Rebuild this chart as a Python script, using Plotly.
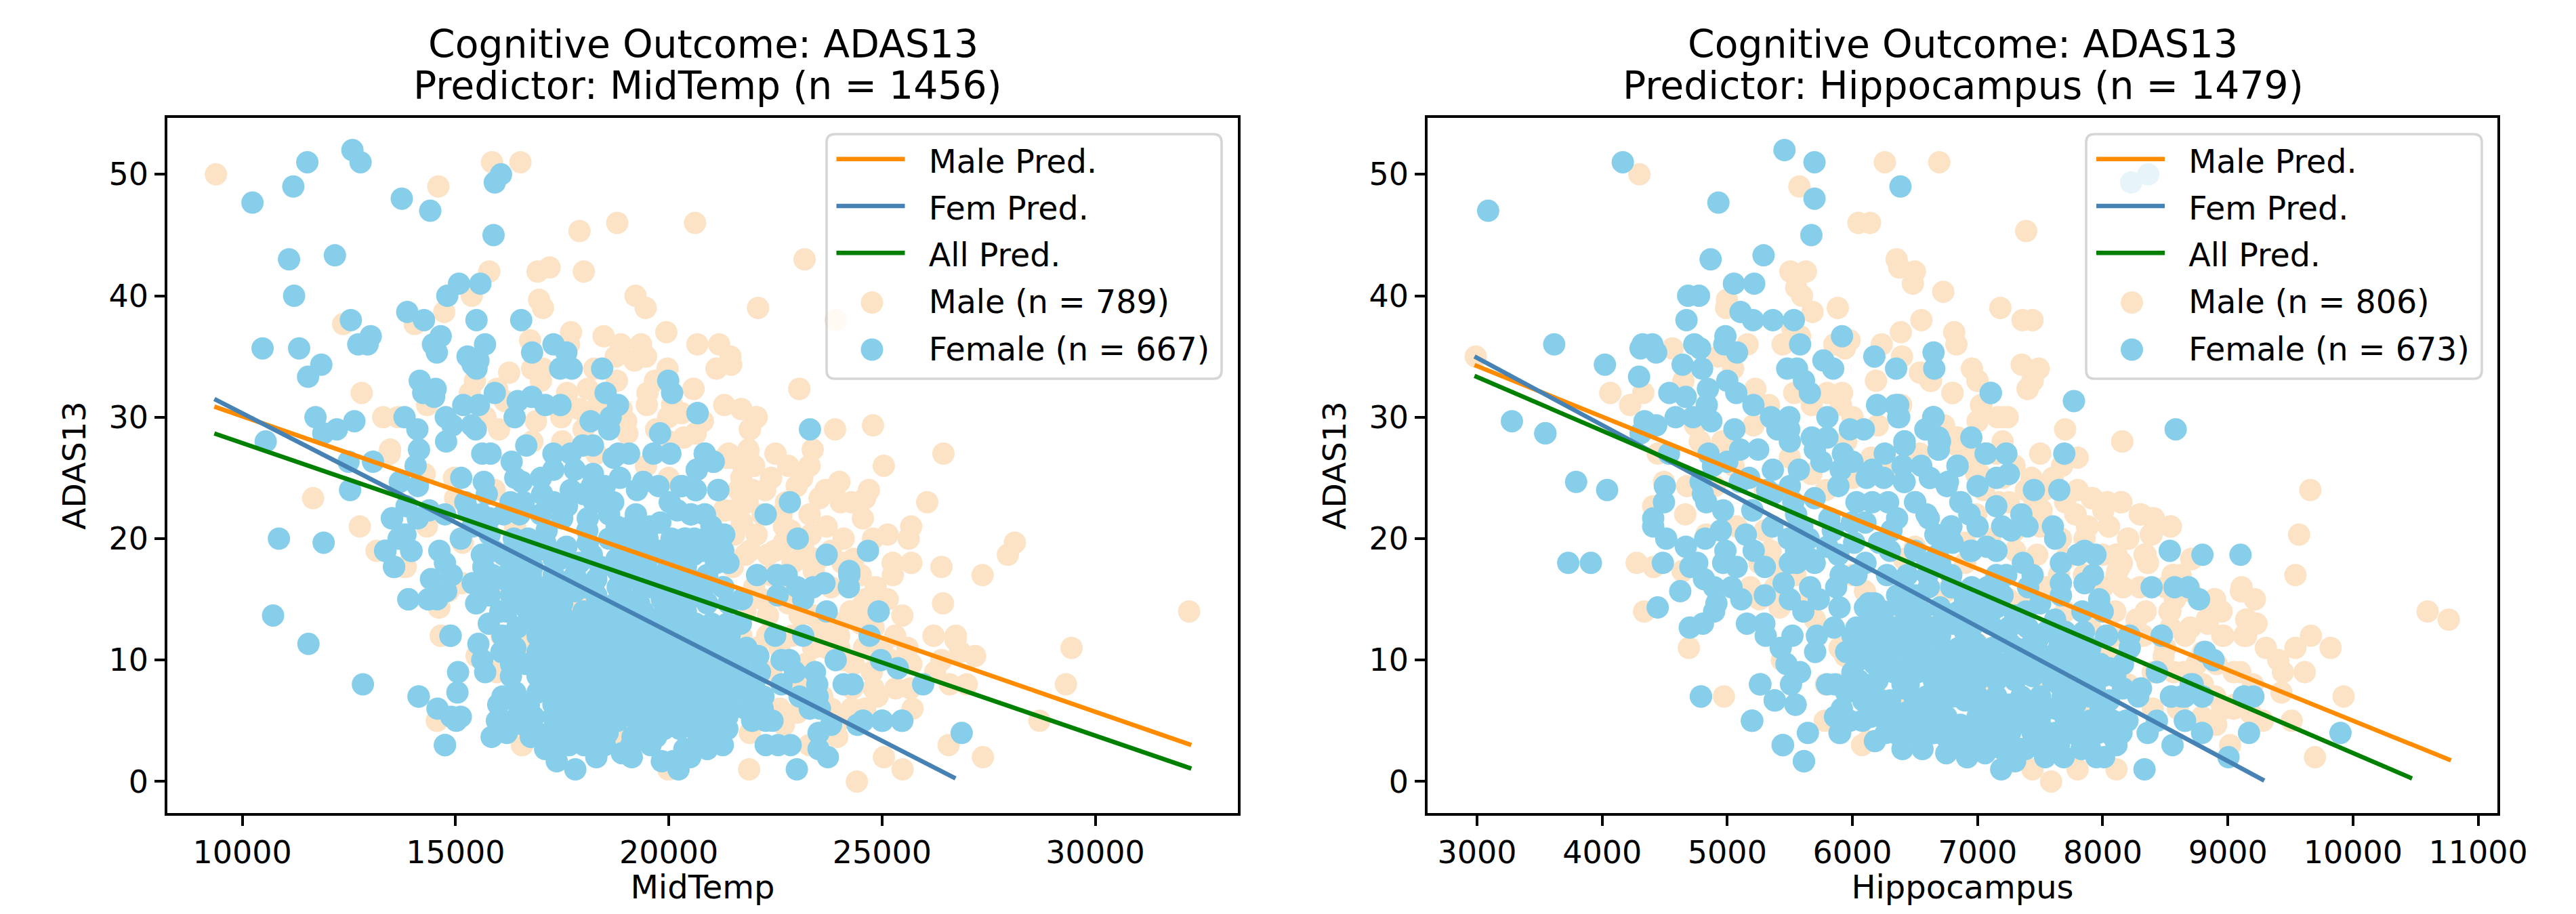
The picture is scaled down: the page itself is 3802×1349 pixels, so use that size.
import plotly.graph_objects as go

W, H = 3802, 1349

# ---------- data ----------
male_mid = [(9380,50),(15855,51),(16520,51),(14596,49),(17906,45.33),(18791,46),(20615,46),(15790,42),(16922,42),(17204,42.33),(18007,42),(15380,40),(16958,39.67),(17049,39),(19220,40),(19457,39),(22092,39),(14733,38.67),(14040,37.67),(12362,37.67),(17706,37),(16748,36.33),(17660,36),(18472,36.67),(18873,36),(19348,36),(19941,37),(20670,36),(21181,36),(21445,35),(18755,35),(19193,34.67),(19466,35),(19968,34),(21117,34),(21463,34.33),(16256,33.67),(16794,34),(17049,34),(18253,34),(18782,33),(19676,33),(20579,32.33),(15453,33),(15335,32),(17615,32),(18098,32.33),(12799,32),(14332,31),(15973,32.33),(16156,31.33),(13301,30),(13648,30),(19484,31),(20077,31),(18344,31),(18892,30.67),(19986,30),(22056,30),(21901,29),(20624,28.67),(19028,28.67),(20351,28.33),(16885,29.67),(16019,29),(15700,30),(17478,30),(13465,27.33),(21400,27),(21865,27.33),
(20577,32.33),(23061,32.33),(22060,30),(21901,29),(23898,29),(24788,29.33),(23374,27.33),(26440,27),(25042,26),(21859,27),(21424,26.67),(21742,26),(20630,28.67),(23130,25),(23676,24),(23533,23.33),(24030,23),(24284,23),(24603,23.33),(24693,24),(26059,23),(24550,21.67),(25683,21),(25625,20),(25132,20.33),(24788,20),(23331,20.33),(21636,24),(21954,24),(22261,24),(22749,23),(21848,23),(21292,22.33),(21716,21.33),(22643,22),(28114,19.67),(27950,18.67),(27357,17),(26393,17.67),(25688,18),(25249,18),(25254,17),(24338,18.33),(24073,18),(24327,17),(26430,14.67),(24851,16),(25132,15),(25477,13.67),(24258,14),(24602,15),(26207,12),(26732,12),(26722,11.67),(27182,10.33),(25307,12),(23993,12),(23570,12.33),(24576,11),(26828,10.67),(26393,10),(25688,9.67),(26245,9),(24761,9),(26986,8),(26589,8),(25318,7.67),(24894,7),(25715,6),(24284,6),(25662,7.67),(23808,6),(24603,6),(23013,5.67),(22325,18.67),(21795,18.67),(22696,19.67),(22060,20.33),(21530,20.33),(23066,18.33),(22325,13.67),(23066,13.67),(21795,14),(23702,11),(23384,11),(24338,9.67),(22060,11),(22590,11),(22484,19),(22855,20.67),(23172,19),(21530,22.33),
(23184,43),(23914,38),(23060,32.33),(32201,14),(29444,11),(29313,8),(28692,5),(27365,2),(26562,3),(25482,1),(24410,0),(26212,12),(26722,11.9),(25044,2),(23950,3.67),(23293,3),
(13453,27),(14274,25.33),(14963,25),(15916,24),(14990,23.33),(14327,21),(15164,19.67),(13347,19),(13798,17.67),(15122,16.33),(15811,16),(14831,15.67),(14619,14.33),(14661,12),(15493,10.33),(15970,9),(14566,5),(16552,3),(19995,1),(18909,3.33),(17241,16),(16393,21),(17718,14.67),(18194,14.67),(16075,12),(16525,11.33),(19465,26),(19995,25),(18300,27),(21320,22.33),(21320,26.67),
(11659,23.33),(12754,21),(13447,27),(14560,5),(16566,3),(19986,1),(21883,1),(14651,12),(14605,14.33),(13146,19),(13830,17.67),(15152,16.33),(15791,16),(15499,10.33),(17250,16.33),(18071,14.67),(19165,4.67),(18892,3.33),
(22000,26),(22400,25),(22800,26),(22200,22),(22700,21),(23300,22),(23700,21),(24100,20),(23800,19),(22400,17),(22900,16),(23400,17.33),(23800,16),(24500,17),(22200,15),(22800,14.67),(23400,13.67),(24000,13),(24500,13),(21700,12),(22300,12),(22900,12),(24800,12.67),(21400,10),(23200,9.67),(24100,10),(24800,10.67),(25200,10),(21800,8),(22400,9),(23000,8),(23600,7),(24300,7.67),(24800,7.67),(21900,4),(22700,4.67),(24000,5),(20000,28),(19000,29.67),(18000,29),(17500,28),(16800,28),(20800,29.67),(19700,29),(21300,31),
(21900,19),(21500,17.67),(22000,16),(22900,18),(23500,18.33),(21700,25),(22500,27),(23000,24.33),(24000,24.67),(23300,26),(19500,32),(17000,33),(17900,30.67),(20300,30.33),(21700,30.67),(24000,11),(25000,11),(25600,11),(22600,6),(24500,14.33)]

female_mid = [(10237,47.67),(11195,49),(11523,51),(12581,52),(12772,51),(13739,48),(14405,47),(15890,45),(16065,50),(15919,49.33),(11094,43),(12170,43.33),(11213,40),(15080,41),(15581,41),(14806,40),(13867,38.67),(14259,38),(15490,38),(16539,38),(12544,38),(13010,36.67),(12937,36),(12718,36),(10474,35.67),(11331,35.67),(11851,34.33),(11541,33.33),(14651,36.67),(14469,36),(14560,35.33),(15690,36),(15280,35),(15536,34.67),(15400,34.33),(15490,34),(16794,35.33),(17296,36),(17597,35.33),(17451,34),(17724,34),(18436,34),(19986,33),(20077,32),(14159,33),(14533,32.33),(14241,32),(14496,31.67),(15919,32),(15180,31),(15545,31),(16785,31.67),(16457,31.33),(17105,31),(17460,31),(18518,32),(18809,31),(16385,30),(18637,30),(20670,30.33),(11715,30),(13803,30),(12627,29.67),(12216,29),(11897,28.67),(10547,28),(18166,29.67),(14770,30),(14925,29.33),(15381,29.33),(15472,29),(14104,29),(18600,29),(19795,28.67),
(10857,20),(11906,19.67),(10720,13.67),(11550,11.33),(12827,8),(14131,7),(15043,7.33),(14879,12),(14751,3),(15845,3.67),(12526,24),(13064,26.33),(12490,26.33),(13511,21.67),(13739,20.33),(13967,19),(13356,19),(13556,17.67),(13894,15),(14359,15),
(14137,7),(14576,6),(15058,9),(14884,12),(15482,14.67),(13893,15),(14365,15),(14751,3),(15969,5),(16340,5),(15122,5.33),(14900,5.33),(15016,5),(17373,1.67),(17807,1),(19132,2),(19121,3),(20228,1),(19836,1.67),(20100,1.67),(21266,3),(19571,3),(17665,3),(18009,3),(18274,3.33),(16764,3.67),(16923,4),(18565,4),(20366,2.67),(16075,10.67),(15535,11.33),(15625,10),(15694,9),(16298,8.67),(15779,13),(16049,14),(16605,14.67),(17294,14.67),(17506,16),(16764,17),(16393,16.33),(16128,16.67),(15864,17),(15652,17.67),(15615,18.67),(16128,18.67),(16605,18.33),(17453,18.33),(16446,12.67),(17347,13),
(16923,13),(17665,13),(18035,13),(18406,13),(18777,13),(19148,13),(19518,13),(19889,13),(20260,13),(21002,13),(21372,13),
(16923,12),(17294,12),(17665,12),(18035,12),(18406,12),(18777,12),(19148,12),(19518,12),(19889,12),(20260,12),(20631,12),(21002,12),(21372,12),
(16923,10.67),(17294,10.67),(17665,10.67),(18035,10.67),(18406,10.67),(18777,10.67),(19148,10.67),(19518,10.67),(19889,10.67),(20260,10.67),(20631,10.67),(21002,10.67),(21372,10.67),
(16652,9.67),(17294,9.67),(17665,9.67),(18035,9.67),(18406,9.67),(18777,9.67),(19148,9.67),(19518,9.67),(19889,9.67),(20260,9.67),(20631,9.67),(21002,9.67),(21372,9.67),
(16923,8.67),(17294,8.67),(18035,8.67),(18406,8.67),(18777,8.67),(19148,8.67),(19518,8.67),(19889,8.67),(20260,8.67),(20631,8.67),(21002,8.67),(21372,8.67),
(16923,7.33),(17294,7.33),(17665,7.33),(18035,7.33),(18406,7.33),(18777,7.33),(19148,7.33),(19518,7.33),(19889,7.33),(20260,7.33),(20631,7.33),(21002,7.33),(21372,7.33),
(16720,6.33),(17294,6.33),(17665,6.33),(18035,6.33),(18406,6.33),(18777,6.33),(19148,6.33),(19518,6.33),(19889,6.33),(20260,6.33),(20631,6.33),(21002,6.33),(21372,6.33),
(16830,5.33),(17294,5.33),(17665,5.33),(18035,5.33),(18406,5.33),(18777,5.33),(19148,5.33),(19518,5.33),(19889,5.33),(20260,5.33),(20631,5.33),(21002,5.33),(21372,5.33),
(17294,4.33),(17665,4.33),(18035,4.33),(18406,4.33),(19518,4.33),(19889,4.33),(20260,4.33),(20631,4.33),(21002,4.33),(21372,4.33),
(15625,27),(15821,27),(16314,26.33),(14142,27.33),(14778,28),(14063,26),(13692,24.67),(14115,24.33),(15133,25),(15662,24.67),(15731,23.67),(16552,24.67),(17294,25.67),(17294,27),(16658,27.67),(17797,25.67),(18221,25.33),(18194,24.33),(17982,27.67),(18221,27.67),(18819,27),(19068,27),(19640,27),(20037,27),(20843,27),(21043,26.33),(20657,25.67),(18856,25),(19254,24),(19757,24.33),(20313,24.33),(20631,24),(21160,24),(20022,23),(18697,23),(18247,23),(17611,22.67),(17029,23.67),(16287,23),(15228,23),(15599,22),(16128,22),(14380,22.33),(14751,22),(13851,22.67),(13506,21.67),(14115,21.67),(15122,20),(13824,20.33),(13665,20),(14619,19),(13957,19),(13347,19),(13559,17.67),(14751,18),(14910,17),(14423,16.67),(14778,15.67),(14566,15),(16367,20),(17135,20.67),(18088,20.67),(18777,21),(19227,22),(19556,21),(20525,22),(20843,22),(20975,20.33),(20064,20),(20366,20),(20578,18.67),(21107,18),(21266,19),(19307,19),(19783,19),(18194,18.67),(17559,18.67),(18777,18.33),(19625,17),(19042,16.67),(18247,16.33),(20181,16),(20790,16),(21266,16),(19836,15),(20366,15),(19307,14.67),(18750,14.67),(20949,12.67),
(20677,30.33),(23310,29),(20842,27),(21054,26.33),(20656,25.67),(20285,24.33),(20630,24),(21159,24),(20513,22),(20842,22),(22272,22),(22839,23),(20391,20),(20963,20.33),(23024,20),(21276,19),(20577,18.67),(21117,18),(23702,18.67),(24671,19),(24232,17.33),(24232,17),(24221,16),(22070,17),(22537,17),(22764,17),(23649,16.33),(23384,16),(23013,16),(21281,16),(20842,16),(20471,15),(22552,15.33),(21716,15),(23151,15),(23702,14),(24920,14),(24708,12),(22494,12),(23151,12),(21689,13),(20948,12.67),(20630,13),(21424,12),(21822,11),(20736,11),(23914,10),(24973,10),(25371,9.33),(22643,10),(22828,10),(22139,9),(21716,9),(21212,9.67),(23427,9),(24099,8),(24311,8),(25964,8),(22960,9),(22643,8),(23480,8),(22219,7),(23066,7),(23490,7),(23305,6),(23543,6),(22431,5),(24549,5),(25000,5),(25477,5),(21477,7.67),(20736,7.67),(21795,6),(21000,6),(20471,9.67),(21265,5),(21954,5),
(26868,4),(23002,1),(23731,2),(23512,2.67),(23512,4),(23804,4.67),(24424,4.67),(24556,5),(25008,5),(25460,5),(22856,3),(22564,3),(22272,3),(22272,5),
(15400,21),(15800,20.33),(16700,20),(17100,19.67),(17600,19.33),(18100,19.67),(18600,20),(19000,20),(19500,20),(15900,19),(16400,19),(16900,19),(17300,18.33),(17900,18),(18400,17.67),(18800,17.33),(19200,17.67),(16300,17.67),(16800,17.67),(17300,17),(17800,17),(18300,16.67),(18800,16),(19400,16),(16700,16.33),(17100,16),(17800,15.67),(18300,15.33),(17500,14.67),(16900,15),(15300,22.33),(15800,21.67),(16500,22),(17000,22),(17500,21.67),(18100,21.67),(18600,22),(19100,21),(19800,21.33),(16600,23),(17300,23),(18000,23.67),(18500,24.33),(17700,24),(17000,25),(16400,25),(17700,27),(18700,26.67),(19400,24.67),(20200,22.33),(21000,21),(21300,20.33),(21400,18),(20900,17),(20400,17.67),(21400,14.67),(20900,14.67),(20400,14),(19900,14),(19400,14),(19000,15),(17600,11.33),(17000,11.33),(20000,18),(20600,20),
(17300,3),(18500,3),(18900,2.33),(19700,3.67),(20700,3.67),(18300,2),(20500,2),(20900,2.67),(17100,3.67),(19150,3.67),(21100,3.67),(18400,4),(18800,5),(16200,14),(16700,14),(17100,14),(17500,13.67),(18000,14),(18400,14),(18900,14),(15800,15.33),(16300,15.33),(17000,15.33),(18000,16),(19600,16),(20100,15),(20700,15.33),(20500,16.67),(20000,16.67),(19000,18.33),(19500,18.33),(20100,19),(20800,19),(18900,19),(15600,15.67),(15400,16.33),(16100,12),(16400,11),(16300,9.67),(16400,7.33),(16100,7),(16000,6.33),(16500,6),(16600,4.67),(16200,4),(17100,2.67),(17000,9.33),(17500,8),(17700,8.67),(18200,8),(18600,8),(19000,8),(19400,8),(19800,8),(20200,8),(20600,8),(21000,8),(21400,8.67),(21000,4.67),(17500,11.33),(18200,11.33),(18600,11.33),(19000,11.33),(19400,11.33),(19800,11.33),(20200,11.33),(20600,11.33),(21000,11.33),(21700,10),(21800,7.33),(22000,8),(22200,6),(22100,10.33)]

male_hip = [(4298,50),(6259,51),(6694,51),(5576,49),(6048,46),(6141,46),(7388,45.33),(6353,43),(5504,42),(5628,42),(6374,42.33),(6499,42),(6483,41),(6726,40.33),(5551,40.67),(5597,40),(4997,39.67),(4991,39),(5681,38.67),(5883,39),(7182,39),(6551,38),(7359,38),(5520,37.33),(6387,37),(6813,37),(5582,36.67),(5442,36),(5162,36),(5977,36.33),(5855,36),(6234,36),(6831,36),(5939,35.67),(4562,35.67),(2990,35),(6396,35),(4929,35),(5047,34),(6955,34),(7353,34.33),(6539,33.67),(6188,33),(6623,33),(6999,33),(4649,33),(7400,32.33),(5224,32.33),(5535,32),(4065,32),(4329,32),(4224,31),(6800,32),(5917,32),(5799,32),(6390,31),(5675,31),(5333,31),(7030,31),(5908,31),(6001,30),(7198,30),(4743,29.33),(4780,28),(4960,28),(5209,29.33),(6732,29.33),(6841,28.33),(6203,29.33),(6949,27),
(4444,27),(4494,24.67),(4664,22),(4408,22.67),(4678,24.33),(4276,18),(4411,17.67),(4642,17.33),(4335,14),(4693,11),(4973,7),(5436,10),(5788,8),(5779,5),(6077,3),(6122,3.33),(5184,16),(5382,16),(5418,14.33),(5256,15),(5653,15),(5545,17),(5346,19),(5256,18),(4832,20.33),(5075,21),(5897,11),(5942,10.33),(6339,14),(6420,6),(6844,4),(5671,25.33),(5788,24),(6285,25.33),(6411,18.33),(6465,27),(6835,27.67),(6953,27),(6989,25.33),(6899,19.67),(6537,27),
(6799,32),(7028,31),(7160,30),(7241,30),(8157,28),(7400,32.33),(7440,33),(7000,33),(6628,33),(6830,28.33),(6994,27),(7016,25.33),(7296,26),(7431,25),(7530,24),(7386,24),(7449,23.33),(7675,26),(7918,23.33),(8036,23),(8149,23),(7783,22),(8005,22.33),(8306,22),(8400,21.67),(7882,21),(8050,21),(8204,20),(8391,20.33),(8541,21),(7855,20),(7666,20),(8108,18.67),(8153,18),(8343,18.67),(8361,18),(8713,18.33),(8117,17.33),(8568,17),(8622,17),(8297,16),(8162,16),(8577,15),(8898,15),(9110,16),(9104,15.67),(8343,14),(8541,14),(8870,14),(8839,13),(8965,12),(9146,13.33),(9146,12),(8658,12),(8541,12.67),(8270,13.33),(7512,22.33),(7169,23),(6989,22),(7296,20.67),(7476,18.67),(8749,9.67),(8911,9.67),(9046,9),(8568,9),(8965,6),(9046,6),(8794,5.33),(8324,12),(8487,10.33),
(8155,28),(9659,24),(9569,20.33),(9540,17),(10596,14),(10765,13.33),(9821,11),(9664,12),(9540,11),(9925,7),(9614,9),(9510,5),(9696,2),(9018,3),(7799,1),(8110,1),(7588,0),(7439,1),(9428,7.33),(9403,10),(9440,9),(9110,15.67),(9216,15),(9154,13.33),(9229,13),(9130,12),(9304,11),(8956,12),(8893,15),(8831,13.33),(8533,14),(8147,23),(8036,23),(7911,23.33),(8297,22),(8409,21.67),(8545,21),(8202,20),(8048,21),(7874,21),(7782,22),(8384,20.33),(8110,18.67),(8334,18.67),(8359,18),(8707,18.33),(8135,17.67),(8110,17),(8558,17),(8906,4.67),(9179,5.67),(9055,6.33),(9279,5),(8806,5),(8955,6),(7489,34),(7439,38),(7439,33),
(7200,28),(7500,27),(7800,26.67),(7800,24),(7200,25),(7000,29.67),(7700,29),(7500,21),(7700,18.33),(7300,19),(7400,15),(7700,14),(8000,18.67),(8000,16),(8100,14),(8500,16),(8300,12),(8700,15.67),(8800,10.67),(8400,9),(8800,8),(8200,8),(8600,6),(9100,9),(9200,8),(8900,7),(7800,10.67),(8050,10.33),(6200,12.33),(6700,14),(6900,18),(7100,20),(6500,19.33),(6000,25),(6150,26.67),(5950,28),(5500,26.67),(5300,24),(5050,26),(4900,24.33),(5300,20.67),(5400,17.67),(6000,17),(6100,15.67),(5700,13.33),(5900,8),(6300,9.67),(6200,7),
(7150,27),(7050,24),(7600,25),(7250,23),(7700,23),(7400,21.67),(7650,17),(7850,17),(7550,16),(7250,15),(7900,12.67),(8100,12),(8500,11),(8700,12.67),(8950,14),(8650,9),(8900,5),(8400,6),(7800,6),(7550,8.33),(7250,9),(7000,7.67),(7000,11.33),(6750,15.67),(6550,13)]

female_hip = [(3089,47),(4165,51),(5457,52),(5697,51),(6384,49),(4929,47.67),(5697,48),(5672,45),(4867,43),(5290,43.33),(5053,41),(5215,41),(4687,40),(4774,40),(4674,38),(5106,38.67),(5206,38),(5364,38),(5532,38),(5917,36.67),(5582,36),(4985,36.67),(4736,36),(4783,35.67),(4976,36),(5078,35.33),(3617,36),(4323,36),(4401,36),(4307,35.67),(4432,35.33),(4022,34.33),(4295,33.33),(4643,34.33),(4799,34),(6175,35),(6648,35.33),(6349,34),(6654,34),(5479,34),(5557,34),(5768,34.67),(5846,34),(5613,33),(5660,32),(5000,33),(5072,32),(4537,32),(4668,31.67),(4845,32.33),(4836,31),(5209,31),(6197,31),(6343,31),(6374,30),(5349,30),(5495,30),(4587,30),(4727,30),(4873,29.67),(4339,29.67),(4432,29.33),(4307,28.67),(7105,32),(6645,30),(6592,29),(6688,28.33),(3279,29.67),(3546,28.67),(5057,29),(5495,29),(6091,29),(5980,29),(5800,28.33),(5675,28.33),(6415,28),(7064,27),(7229,27),
(4501,24.33),(4494,23),(4408,21.67),(4408,21),(4512,20),(4669,19.33),(4485,18),(4705,17.67),(4760,18),(4624,15.67),(4444,14.33),(4814,16.67),(4895,16),(5034,16),(5112,15),(4913,14.67),(4895,14),(4805,13),(4700,12.67),(4823,20),(4949,20.67),(5148,20.33),(5211,19),(4985,19),(4967,18),(5075,17.67),(5500,18),(5554,18),(5662,18.33),(5698,18),(5361,21),(5491,20),(5599,21),(5157,13),(5296,13),(5307,12),(5427,11),(5521,12),(5473,9.67),(5581,9),(5509,8),(5702,10.67),(5716,12),(5662,16),(5870,16),(5731,15),(5608,14),(5897,14.33),(6032,12.67),(5852,12.67),(6131,12.67),(6131,14.67),(6176,14.67),(6357,15.33),(6032,17),(5906,17),(5888,18.67),(6104,18),(6276,17),(6438,17),(6610,16),(6790,16),(6953,16),(5261,8),(5379,6.67),(5545,6.33),(5196,5),(5446,3),(5644,4),(5612,1.67),(5897,4),(5915,6),(5861,5.33),(5978,5),(5797,8),(5861,8),(4790,7),(6086,6.67),(6231,6.67),(6113,11),(6050,10),(6177,9.67),(6177,5.67),(6267,4),(6384,3.67),(6438,5.33),(6646,4),(6610,5.33),(6917,2),(6904,3),(6326,12.33),(6465,9.67),(6357,9),(6520,9),(6592,7),(6718,8.67),(6718,11),(6501,13),(6899,12.33),(6718,5.67),(6862,4.67),(6953,7.67),
(6285,23),(6357,21.67),(6158,25.67),(6258,27),(6113,25),(6691,27.33),(6417,27.67),(6839,26),(6417,24.67),(6619,25),(6754,24.33),(6862,23),(6935,22),(6790,21),(6664,20.33),(6953,19),(6682,18.67),(6501,23),(6610,21.67),(6790,17),(5888,24.33),(5906,25.67),(5924,27),(5752,26.33),(5572,25.67),(5364,25.67),(5319,24),(5698,23.33),(5500,28),(5247,27.33),(5103,27.33),(4850,27),(4886,26),(4534,27),(4787,24.67),(4805,23.67),(4832,23),(4967,22.33),(5175,25),(5202,22.33),(5364,23.67),(5527,23),(5816,21.67),(5996,21.33),(6032,23),(6158,23),(5843,20.67),(6014,19.67),(6213,19.67),(6312,20.67),(6104,21.33),
(7106,32),(7770,31.33),(8583,29),(7693,27),(7070,27),(7229,27),(6841,26),(6649,30),(6583,29),(6691,28),(6687,27.33),(6417,28),(6366,30),(6366,31),(7151,25),(7653,24),(6619,25),(6763,24.67),(6411,24.67),(6501,23),(6868,23),(6935,22),(6592,22),(6790,21),(6664,20.33),(6781,20),(7196,21),(7269,20.67),(7399,21),(7602,21),(7620,20),(6944,19),(7074,19.33),(7151,19),(7362,18),(7666,18),(7801,18.67),(7855,19),(7942,18.67),(7922,17),(7855,16.33),(8536,19),(8797,18.67),(9101,18.67),(8391,16),(8574,16),(8685,16),(8770,15),(7972,15),(8000,14),(7666,16.33),(7666,15.33),(7151,17),(7229,17),(7440,17),(7404,16),(7079,16),(7133,15.33),(6998,15),(6799,16),(6700,18),(6411,16.67),(6538,12.67),(7007,14),(7386,14),(7620,13.33),(7837,14),(8027,12),(8216,12),(8472,12),(8216,11),(8162,9.67),(8433,9),(8815,10.67),(8884,10),(8703,8),(8799,7),(8550,7),(8631,7),(8306,7.67),(9128,7),(8658,5),(7982,9.67),(7801,10.33),(7530,10.33),(7260,11.33),(6989,11.33),(6718,11),(6465,11.67),(6718,7.67),(7079,9.67),(7440,8.67),(7801,7.67),(8162,7.67),(6538,9.67),(6899,6.67),(7260,6),(7620,6),(7982,6),(8198,5),(8433,5),(6429,5.67),(6628,5),(6411,7.67),
(8364,50),(8227,49.33),(9900,4),(9169,4),(8334,1),(9005,2),(8558,3),(8110,3),(7949,2),(8011,2),(7688,2),(7514,3),(7886,3.33),(8359,4),(8657,5),(8794,4),(9130,7),(9204,7),(8794,7),(8657,7),(8545,7),(8719,8),(8471,12),(8819,10.67),(8886,10),(8210,12),(8433,9),(8036,12),(8284,7),(7812,3.67),(8085,3.67),(7762,7.33),(7936,7.67),(8185,5),
(7189,1),(6918,2),(5902,4),(5613,1.67),(5442,3),(5200,5),(5545,6.33),(5380,6.67),(5265,8),(4789,7),(3729,18),(3910,18),(3792,24.67),(4040,24),(3546,28.67),(7384,2.67),(7198,2.67),(7167,3.67),(6989,4),(7260,4),(7440,4),(7620,4),(7800,5),
(6100,14.33),(6250,14),(6400,14.33),(6550,14),(6700,14.33),(6850,14),(7150,14.33),(7300,13.67),(7500,14.67),(6200,12.67),(6350,12.67),(6650,12.67),(6800,13),(6950,12.67),(7100,13),(7250,12.67),(7400,12.67),(7550,12.33),(7700,12.33),(7850,12.33),(6100,11.33),(6250,11.33),(6400,11),(6550,11.33),(6850,11),(7120,11),(7400,11),(7650,11),(7900,11),(6150,10),(6300,10.33),(6600,10),(6750,9.67),(6900,9.67),(7000,10),(7200,9.67),(7350,9.67),(7550,9.67),(7700,9.67),(7900,9.67),(6050,8.33),(6200,8.33),(6450,8),(6650,8.33),(6850,8.33),(7000,8.33),(7150,8.33),(7300,8.33),(7600,8.33),(7750,8.67),(7950,8.33),(8100,8.67),(6100,7),(6300,6.67),(6500,6.67),(6800,7),(7000,7),(7150,7),(7350,7),(7500,7),(7680,7),(7900,7),(8050,6.67),(6400,5.33),(6750,5.33),(7000,5.33),(7150,5.33),(7400,5.33),(7500,5.33),(7700,5.33),(7900,5),(8080,5),(6500,4),(6750,3.67),(7100,4),(7350,2.67),(6560,2.67),(6750,2.33),(7060,2.33),(7540,2),(7830,2.67),(7300,1.67),
(5200,22.33),(5550,22),(5650,20),(5800,19.33),(5550,19),(5300,17.67),(5450,16.33),(5300,15.33),(5500,15),(6300,19),(6500,19),(6600,18),(6800,19.67),(7000,21),(7150,22.67),(7350,22),(7450,24),(7250,25.33),(7000,24.33),(6700,28),(6550,26),(6950,28.33),(5000,26.33),(5100,24.67),(5500,24.33),(6250,25),(5700,27.33),(6000,26.33),(6400,26),(5400,29),(5800,30),(6600,17),(7200,15.33),(6900,15),(6500,15.33),
(6230,13.33),(6480,13.33),(6730,13.33),(6980,13.67),(7200,11.67),(7480,11.67),(7760,11.67),(6330,9),(6620,9),(6850,9.33),(7080,9),(7420,9),(7650,8),(7820,9),(8000,8.67),(6150,5.33),(6300,4.67),(6550,5.33),(6900,4.33),(7050,4.67),(7300,4.67),(7500,4.67),(7750,4),(7960,4),(8150,4),(6650,4),(6830,3),(7000,3),(7200,3),(7450,3),(7650,3),(7900,2.67),(6900,3.67),(6400,8),(6500,10.33),(6700,12),(6950,11.33),(7300,11),(7500,10.33),(7700,10.33),(8050,9.33),(7060,6.33),(7250,6.33),(7450,6),(7780,6.33),(8000,5.67),(6250,5.33),(6600,6.33),(6700,6.67),(6000,12),(5950,10.67),(6000,9),(5950,7.33),(6080,5),(6180,3.33),(6400,2.67)]

male_pred_mid_x = [9343, 32253];  male_pred_mid_y = [30.87, 3.0]
fem_pred_mid_x = [9343, 26723];   fem_pred_mid_y = [31.5, 0.25]
all_pred_mid_x = [9343, 32253];   all_pred_mid_y = [28.66, 1.06]
male_pred_hip_x = [2980, 10783];  male_pred_hip_y = [34.3, 1.74]
fem_pred_hip_x = [2980, 9291];    fem_pred_hip_y = [35.0, 0.07]
all_pred_hip_x = [2980, 10472];   all_pred_hip_y = [33.4, 0.25]

xticks_mid = [10000, 15000, 20000, 25000, 30000]
xticks_hip = [3000, 4000, 5000, 6000, 7000, 8000, 9000, 10000, 11000]
yticks = [0, 10, 20, 30, 40, 50]

# ---------- style ----------
PEACH, SKY = "#FDE3C6", "#87CEEB"
ORANGE, STEEL, GREEN = "#FF8C00", "#4682B4", "#008000"
FONT = "DejaVu Sans"
FS = 46
MS = 33
LW = 6.5
SP = 3.6
PAGE = 8                      # the page body's own margin
FW, FH = W - 2 * PAGE, H - 2 * PAGE - 4

def px(v): return (v - PAGE) / FW
def py(v): return 1 - (v - PAGE) / FH

panels = [
    dict(ax="", x0=247, x1=1827, rng=[8241, 33344], ticks=xticks_mid, xt="MidTemp",
         male=male_mid, fem=female_mid,
         mp=(male_pred_mid_x, male_pred_mid_y), fp=(fem_pred_mid_x, fem_pred_mid_y), ap=(all_pred_mid_x, all_pred_mid_y),
         t1x=1037.5, t2x=1044,
         t2="Predictor: MidTemp (n = 1456)", mn="Male (n = 789)", fn="Female (n = 667)",
         lg="legend", fx0=1220, fx1=1803, lx=1236.5),
    dict(ax="2", x0=2107, x1=3686, rng=[2605, 11154], ticks=xticks_hip, xt="Hippocampus",
         male=male_hip, fem=female_hip,
         mp=(male_pred_hip_x, male_pred_hip_y), fp=(fem_pred_hip_x, fem_pred_hip_y), ap=(all_pred_hip_x, all_pred_hip_y),
         t1x=2897, t2x=2897,
         t2="Predictor: Hippocampus (n = 1479)", mn="Male (n = 806)", fn="Female (n = 673)",
         lg="legend2", fx0=3079, fx1=3663, lx=3096),
]
Y0, Y1 = 174, 1200
ROWS = [235, 304.5, 374, 443.5, 513]

def label(s):
    return f'<span style="font-size:47.5px">&nbsp;&nbsp;{s}</span>'

fig = go.Figure()
layout = dict(width=FW, height=FH, margin=dict(l=0, r=0, t=0, b=0, pad=0, autoexpand=False),
              paper_bgcolor="white", plot_bgcolor="white", showlegend=True,
              font=dict(family=FONT, size=FS, color="black"))
shapes, annotations = [], []

for p in panels:
    xa, ya = "x" + p["ax"], "y" + p["ax"]
    kw = dict(xaxis=xa, yaxis=ya, legend=p["lg"])
    fig.add_trace(go.Scatter(x=[q[0] for q in p["male"]], y=[q[1] for q in p["male"]], mode="markers",
                             marker=dict(color=PEACH, size=MS, line=dict(width=0)), name=label(p["mn"]), legendrank=4, **kw))
    fig.add_trace(go.Scatter(x=[q[0] for q in p["fem"]], y=[q[1] for q in p["fem"]], mode="markers",
                             marker=dict(color=SKY, size=MS, line=dict(width=0)), name=label(p["fn"]), legendrank=5, **kw))
    for (xs, ys), c, nm, r in ((p["mp"], ORANGE, "Male Pred.", 1), (p["fp"], STEEL, "Fem Pred.", 2), (p["ap"], GREEN, "All Pred.", 3)):
        fig.add_trace(go.Scatter(x=xs, y=ys, mode="lines", line=dict(color=c, width=LW), name=label(nm), legendrank=r, **kw))

    axis_common = dict(showline=True, linecolor="black", linewidth=SP, mirror=True, ticks="outside",
                       ticklen=15, tickwidth=SP, tickcolor="black", showgrid=False, zeroline=False, automargin=False,
                       tickfont=dict(family=FONT, size=FS, color="black"))
    layout["xaxis" + p["ax"]] = dict(domain=[px(p["x0"]), px(p["x1"])], range=p["rng"], tickvals=p["ticks"],
                                     ticktext=[str(t) for t in p["ticks"]], anchor=ya,
                                     title=dict(text=p["xt"], font=dict(family=FONT, size=48), standoff=25), **axis_common)
    layout["yaxis" + p["ax"]] = dict(domain=[py(Y1), py(Y0)], range=[-2.6, 54.65], tickvals=yticks,
                                     ticktext=[str(t) for t in yticks], anchor=xa,
                                     title=dict(text="ADAS13", font=dict(family=FONT, size=47), standoff=20), **axis_common)

    annotations.append(dict(text="Cognitive Outcome: ADAS13", x=px(p["t1x"]), y=py(65), xref="paper", yref="paper", showarrow=False,
                            xanchor="center", yanchor="middle", font=dict(family=FONT, size=56.8, color="black")))
    annotations.append(dict(text=p["t2"], x=px(p["t2x"]), y=py(126), xref="paper", yref="paper", showarrow=False,
                            xanchor="center", yanchor="middle", font=dict(family=FONT, size=56.8, color="black")))

    # legend frame with rounded corners, and full-size legend dots
    a, b, c, d = px(p["fx0"]), px(p["fx1"]), py(198), py(559)
    rx, ry = 12 / FW, 12 / FH
    path = (f"M {a+rx} {c} L {b-rx} {c} Q {b} {c} {b} {c-ry} L {b} {d+ry} Q {b} {d} {b-rx} {d} "
            f"L {a+rx} {d} Q {a} {d} {a} {d+ry} L {a} {c-ry} Q {a} {c} {a+rx} {c} Z")
    shapes.append(dict(type="path", path=path, xref="paper", yref="paper", layer="above",
                       fillcolor="rgba(255,255,255,0.8)", line=dict(color="rgba(204,204,204,0.8)", width=SP)))
    mx = p["lx"] + 50.5
    for row, col in ((ROWS[3], PEACH), (ROWS[4], SKY)):
        shapes.append(dict(type="circle", xref="paper", yref="paper", layer="above", fillcolor=col, line=dict(width=0),
                           x0=px(mx - MS/2), x1=px(mx + MS/2), y0=py(row + 3 + MS/2), y1=py(row + 3 - MS/2)))
    layout[p["lg"]] = dict(x=px(p["lx"] - 7), y=py(ROWS[0] - 40), xanchor="left", yanchor="top",
                           xref="paper", yref="paper", bgcolor="rgba(0,0,0,0)", borderwidth=0,
                           font=dict(family=FONT, size=51, color="black"), itemwidth=101, traceorder="normal",
                           itemclick=False, itemdoubleclick=False)

layout["shapes"] = shapes
layout["annotations"] = annotations
fig.update_layout(**layout)
fig.write_html("out.html")
